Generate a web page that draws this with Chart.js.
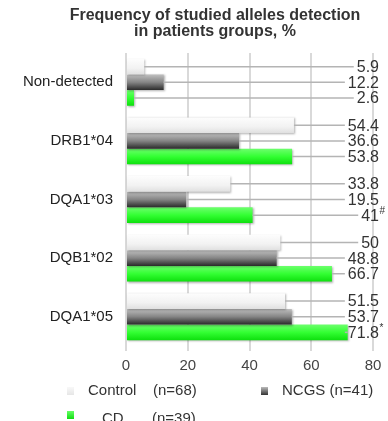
<!DOCTYPE html>
<html lang="en">
<head>
    <meta charset="UTF-8">
    <title>Frequency of studied alleles detection</title>
    <script src="https://cdn.jsdelivr.net/npm/chart.js@4.4.1/dist/chart.umd.min.js"></script>
    <style>
        body { margin: 0; background: #fff; }
        .wrap { position: relative; width: 388px; height: 421px; overflow: hidden; }
        .lg { position: absolute; font: 15px 'Liberation Sans', Arial, sans-serif; color: #333; line-height: 18px; white-space: nowrap; }
        .sw { position: absolute; width: 7px; height: 8px; }
    </style>
</head>
<body>
<div class="wrap">
    <canvas id="chart" width="388" height="421"></canvas>
    <div class="sw" style="left:67px; top:387px; background:linear-gradient(#f8f8f8,#e6e6e6);"></div>
    <div class="lg" style="left:88px; top:381px;" id="lgName0"></div>
    <div class="lg" style="left:153px; top:381px;" id="lgN0"></div>
    <div class="sw" style="left:261px; top:387px; background:linear-gradient(#bbb,#333);"></div>
    <div class="lg" style="left:282px; top:381px;"><span id="lgName1"></span> <span id="lgN1"></span></div>
    <div class="sw" style="left:67px; top:411px; background:linear-gradient(#66ff66,#11dd11);"></div>
    <div class="lg" style="left:102px; top:409px;" id="lgName2"></div>
    <div class="lg" style="left:152px; top:409px;" id="lgN2"></div>
</div>
<script>
    // data
    const categories = ['Non-detected', 'DRB1*04', 'DQA1*03', 'DQB1*02', 'DQA1*05'];
    const seriesNames = ['Control', 'NCGS', 'CD'];
    const groupSizes = ['(n=68)', '(n=41)', '(n=39)'];
    const controlValues = [5.9, 54.4, 33.8, 50, 51.5];
    const ncgsValues = [12.2, 36.6, 19.5, 48.8, 53.7];
    const cdValues = [2.6, 53.8, 41, 66.7, 71.8];
    const cdMarks = ['', '', '#', '', '*'];
    const xTickValues = [0, 20, 40, 60, 80];
    const titleLines = ['Frequency of studied alleles detection', 'in patients groups, %'];

    const FONT = "'Liberation Sans', Arial, sans-serif";

    // bar fills, top -> bottom
    const gradStops = [
        [[0, '#fdfdfd'], [0.6, '#f2f2f2'], [1, '#e0e0e0']],
        [[0, '#c0c0c0'], [0.5, '#858585'], [1, '#2a2a2a']],
        [[0, '#6dff6d'], [0.5, '#33ff33'], [1, '#0ee00e']]
    ];

    for (let i = 0; i < 3; i++) {
        document.getElementById('lgName' + i).textContent = seriesNames[i];
        document.getElementById('lgN' + i).textContent = groupSizes[i];
    }

    const titleText = {
        id: 'titleText',
        afterDraw(chart) {
            const ctx = chart.ctx;
            ctx.save();
            ctx.font = 'bold 16px ' + FONT;
            ctx.fillStyle = '#333';
            ctx.textAlign = 'center';
            ctx.textBaseline = 'middle';
            titleLines.forEach((t, i) => ctx.fillText(t, 215, 16 + i * 16));
            ctx.restore();
        }
    };

    const gradientBars = {
        id: 'gradientBars',
        beforeDatasetsDraw(chart) {
            const ctx = chart.ctx;
            chart.data.datasets.forEach((ds, i) => {
                chart.getDatasetMeta(i).data.forEach(bar => {
                    const { y, height } = bar.getProps(['y', 'height'], true);
                    const g = ctx.createLinearGradient(0, y - height / 2, 0, y + height / 2);
                    gradStops[i].forEach(s => g.addColorStop(s[0], s[1]));
                    bar.options = Object.assign({}, bar.options, { backgroundColor: g });
                });
            });
        },
        beforeDatasetDraw(chart) {
            const ctx = chart.ctx;
            ctx.save();
            ctx.shadowColor = 'rgba(0,0,0,0.3)';
            ctx.shadowOffsetX = 1;
            ctx.shadowOffsetY = 1;
            ctx.shadowBlur = 2;
        },
        afterDatasetDraw(chart) {
            chart.ctx.restore();
        }
    };

    const valueLabels = {
        id: 'valueLabels',
        afterDatasetsDraw(chart) {
            const ctx = chart.ctx;
            const rightEdge = chart.chartArea.right + 6;
            ctx.save();
            chart.data.datasets.forEach((ds, i) => {
                chart.getDatasetMeta(i).data.forEach((bar, j) => {
                    const txt = String(ds.data[j]);
                    const mark = i === 2 ? cdMarks[j] : '';
                    ctx.font = '16px ' + FONT;
                    const w = ctx.measureText(txt).width;
                    const left = rightEdge - w;
                    ctx.strokeStyle = '#b4b4b4';
                    ctx.lineWidth = 1.5;
                    ctx.beginPath();
                    ctx.moveTo(bar.x, bar.y);
                    ctx.lineTo(left - 3, bar.y);
                    ctx.stroke();
                    ctx.fillStyle = '#333';
                    ctx.textAlign = 'left';
                    ctx.textBaseline = 'middle';
                    ctx.fillText(txt, left, bar.y + 1);
                    if (mark) {
                        ctx.font = '10px ' + FONT;
                        ctx.fillText(mark, left + w + 0.5, bar.y - 4);
                    }
                });
            });
            ctx.restore();
        }
    };

    const mkSet = (i, values) => ({
        label: seriesNames[i],
        data: values,
        backgroundColor: () => gradStops[i][1][1],
        borderWidth: 0,
        categoryPercentage: 0.8,
        barPercentage: 1.0
    });

    new Chart(document.getElementById('chart'), {
        type: 'bar',
        data: {
            labels: categories,
            datasets: [mkSet(0, controlValues), mkSet(1, ncgsValues), mkSet(2, cdValues)]
        },
        options: {
            indexAxis: 'y',
            responsive: false,
            animation: false,
            devicePixelRatio: 1,
            layout: { padding: { left: 0, right: 15, top: 53, bottom: 45 } },
            plugins: {
                legend: { display: false },
                tooltip: { enabled: false },
                title: { display: false }
            },
            scales: {
                x: {
                    min: 0,
                    max: 80,
                    afterBuildTicks: s => { s.ticks = xTickValues.map(v => ({ value: v })); },
                    afterFit: s => { s.height = 30; },
                    grid: { color: '#d9d9d9', lineWidth: 2, drawTicks: true, tickLength: 5 },
                    border: { display: false },
                    ticks: { color: '#444', padding: 6, font: { family: FONT, size: 15 } }
                },
                y: {
                    afterFit: s => { s.width = 126; },
                    grid: { display: false, drawTicks: false },
                    border: { display: false },
                    ticks: { color: '#222', padding: 13, font: { family: FONT, size: 15 } }
                }
            }
        },
        plugins: [gradientBars, valueLabels, titleText]
    });
</script>
</body>
</html>
